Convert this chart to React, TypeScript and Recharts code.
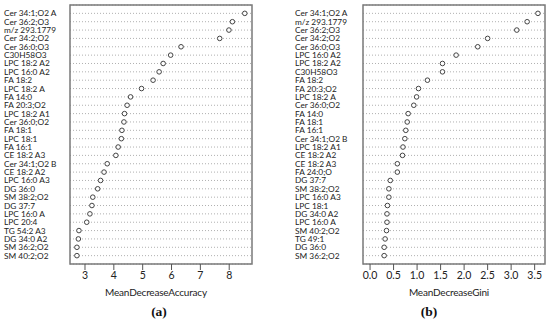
import React from 'react';
import { ScatterChart, Scatter, XAxis, YAxis, CartesianGrid, ReferenceArea } from 'recharts';

const labelsA = [
  'Cer 34:1;O2 A', 'Cer 36:2;O3', 'm/z 293.1779', 'Cer 34:2;O2', 'Cer 36:0;O3', 'C30H58O3',
  'LPC 18:2 A2', 'LPC 16:0 A2', 'FA 18:2', 'LPC 18:2 A', 'FA 14:0', 'FA 20:3;O2',
  'LPC 18:2 A1', 'Cer 36:0;O2', 'FA 18:1', 'LPC 18:1', 'FA 16:1', 'CE 18:2 A3',
  'Cer 34:1;O2 B', 'CE 18:2 A2', 'LPC 16:0 A3', 'DG 36:0', 'SM 38:2;O2', 'DG 37:7',
  'LPC 16:0 A', 'LPC 20:4', 'TG 54:2 A3', 'DG 34:0 A2', 'SM 36:2;O2', 'SM 40:2;O2',
];
const valuesA = [
  8.54, 8.11, 7.99, 7.67, 6.33, 5.97, 5.71, 5.57, 5.36, 4.96, 4.58, 4.46, 4.37, 4.35, 4.28,
  4.26, 4.15, 4.07, 3.77, 3.66, 3.54, 3.44, 3.27, 3.24, 3.17, 3.06, 2.79, 2.77, 2.72, 2.72,
];
const ticksA = [3, 4, 5, 6, 7, 8];

const labelsB = [
  'Cer 34:1;O2 A', 'm/z 293.1779', 'Cer 36:2;O3', 'Cer 34:2;O2', 'Cer 36:0;O3', 'LPC 16:0 A2',
  'LPC 18:2 A2', 'C30H58O3', 'FA 18:2', 'FA 20:3;O2', 'LPC 18:2 A', 'Cer 36:0;O2',
  'FA 14:0', 'FA 18:1', 'FA 16:1', 'Cer 34:1;O2 B', 'LPC 18:2 A1', 'CE 18:2 A2',
  'CE 18:2 A3', 'FA 24:0;O', 'DG 37:7', 'SM 38:2;O2', 'LPC 16:0 A3', 'LPC 18:1',
  'DG 34:0 A2', 'LPC 16:0 A', 'SM 40:2;O2', 'TG 49:1', 'DG 36:0', 'SM 36:2;O2',
];
const valuesB = [
  3.57, 3.34, 3.12, 2.5, 2.29, 1.83, 1.54, 1.54, 1.22, 1.03, 0.99, 0.93, 0.81, 0.79, 0.76,
  0.74, 0.7, 0.69, 0.58, 0.58, 0.43, 0.4, 0.4, 0.37, 0.36, 0.36, 0.35, 0.32, 0.3, 0.3,
];
const ticksB = [0, 0.5, 1, 1.5, 2, 2.5, 3, 3.5];

const FONT = 'Lato, "Open Sans", sans-serif';

type PanelProps = {
  labels: string[];
  values: number[];
  ticks: number[];
  domain: [number, number];
  yAxisWidth: number;
  labelX: number;
  marginRight: number;
  fmt: (v: number) => string;
};

const Dot = (props: any) => {
  const { cx, cy } = props;
  return <circle cx={cx} cy={cy} r={2.3} fill="#fff" stroke="#444" strokeWidth={1} />;
};

const Panel = ({ labels, values, ticks, domain, yAxisWidth, labelX, marginRight, fmt }: PanelProps) => {
  const n = labels.length;
  const data = labels.map((l, i) => ({ label: l, v: values[i], y: n - i }));
  const yTicks = data.map((d) => d.y).sort((a, b) => a - b);
  const labelTick = (props: any) => {
    const { y, payload } = props;
    const idx = n - payload.value;
    return (
      <text x={labelX} y={y} textAnchor="start" dominantBaseline="central" fontSize={8.3} fontFamily={FONT} fill="#222">
        {labels[idx]}
      </text>
    );
  };
  return (
    <ScatterChart width={260} height={323} margin={{ top: 5, right: marginRight, bottom: 39, left: 0 }}>
      <CartesianGrid vertical={false} strokeDasharray="1 2" stroke="#b0b0b0" />
      <XAxis
        type="number"
        dataKey="v"
        domain={domain}
        ticks={ticks}
        allowDataOverflow
        interval={0}
        axisLine={false}
        tickSize={6}
        tickLine={{ stroke: '#555' }}
        tickFormatter={fmt}
        height={20}
        tick={{ fontSize: 10.5, fill: '#222', fontFamily: FONT }}
      />
      <YAxis
        type="number"
        dataKey="y"
        domain={[0, n + 1]}
        ticks={yTicks}
        interval={0}
        width={yAxisWidth}
        axisLine={false}
        tickLine={false}
        tick={labelTick}
      />
      <ReferenceArea
        x1={domain[0]}
        x2={domain[1]}
        y1={0}
        y2={n + 1}
        fill="none"
        stroke="#7a7a7a"
        strokeWidth={1.5}
        ifOverflow="visible"
      />
      <Scatter data={data} isAnimationActive={false} shape={Dot} />
    </ScatterChart>
  );
};

const titleStyle: React.CSSProperties = {
  position: 'absolute',
  width: 200,
  top: 284,
  textAlign: 'center',
  fontFamily: FONT,
  fontSize: 10,
  letterSpacing: -0.2,
  color: '#222',
  lineHeight: '16px',
};

const tagStyle: React.CSSProperties = {
  position: 'absolute',
  width: 80,
  top: 303,
  textAlign: 'center',
  fontFamily: '"Liberation Serif", serif',
  fontWeight: 'bold',
  fontSize: 13.5,
  color: '#111',
  lineHeight: '18px',
};

export default function App() {
  return (
    <div style={{ position: 'absolute', left: 0, top: 0, width: 550, height: 323, background: '#fff', overflow: 'hidden' }}>
      <div style={{ position: 'absolute', left: 0, top: 0 }}>
        <Panel
          labels={labelsA}
          values={valuesA}
          ticks={ticksA}
          domain={[2.48, 8.79]}
          yAxisWidth={70}
          labelX={4}
          marginRight={8}
          fmt={(v) => String(v)}
        />
      </div>
      <div style={{ position: 'absolute', left: 290, top: 0 }}>
        <Panel
          labels={labelsB}
          values={valuesB}
          ticks={ticksB}
          domain={[-0.15, 3.72]}
          yAxisWidth={73}
          labelX={5}
          marginRight={5}
          fmt={(v) => v.toFixed(1)}
        />
      </div>
      <div style={{ ...titleStyle, left: 56 }}>MeanDecreaseAccuracy</div>
      <div style={{ ...titleStyle, left: 349 }}>MeanDecreaseGini</div>
      <div style={{ ...tagStyle, left: 119 }}>(a)</div>
      <div style={{ ...tagStyle, left: 389 }}>(b)</div>
    </div>
  );
}
